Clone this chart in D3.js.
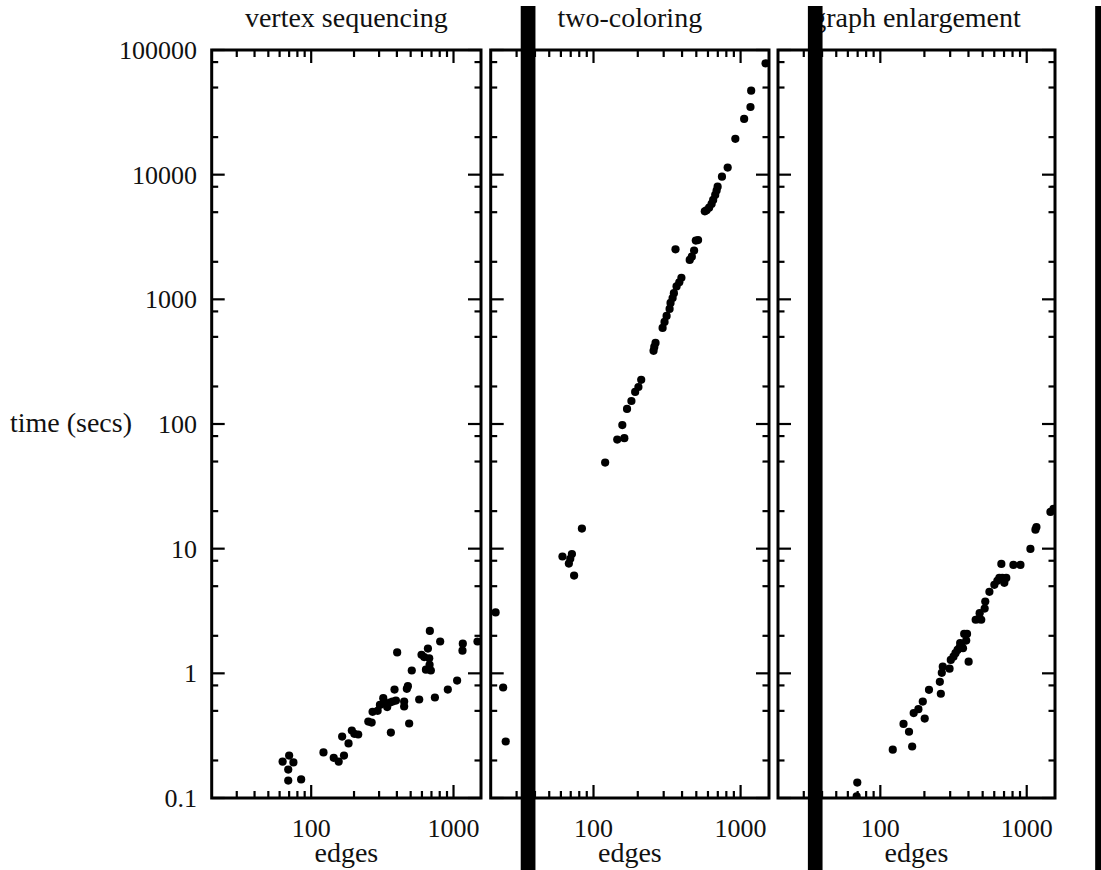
<!DOCTYPE html>
<html lang="en">
<head>
<meta charset="utf-8">
<title>time vs edges</title>
<script src="https://cdnjs.cloudflare.com/ajax/libs/d3/7.8.5/d3.min.js"></script>
<style>
  body { margin: 0; background: #fff; }
  svg text { font-family: "Liberation Serif", "Times New Roman", serif; font-size: 26px; fill: #111; }
  svg text.word { font-size: 28px; }
</style>
</head>
<body>
<svg id="chart" width="1101" height="870"></svg>
<script>
// chart values
var panelTitles = ["vertex sequencing", "two-coloring", "graph enlargement"];

var vsEdges = [63, 70, 75, 69, 69, 85, 122, 144, 156, 170, 165, 183, 193, 201, 214, 252, 266, 270,
  293, 304, 321, 333, 342, 357, 373, 394, 363, 385, 402, 450, 450, 470, 478, 488, 509, 574,
  596, 622, 661, 675, 682, 679, 640, 693, 740, 806, 912, 1060, 1162, 1156, 1474];
var vsTime = [0.196, 0.219, 0.193, 0.169, 0.138, 0.141, 0.232, 0.210, 0.196, 0.219, 0.311, 0.274,
  0.348, 0.327, 0.323, 0.41, 0.403, 0.491, 0.5, 0.558, 0.632, 0.569, 0.536, 0.583,
  0.594, 0.605, 0.335, 0.741, 1.47, 0.594, 0.542, 0.751, 0.789, 0.396, 1.054, 0.617,
  1.41, 1.35, 1.58, 1.32, 2.19, 1.17, 1.07, 1.054, 0.64, 1.80, 0.741, 0.875, 1.73, 1.52, 1.80];

var tcEdges = [21.6, 24.3, 25.3, 61.5, 71.3, 68, 69.5, 73.8, 83.4, 120, 145, 162, 157, 169, 181, 192,
  202, 211, 256, 259, 264, 295, 304, 314, 329, 334, 345, 352, 367, 383, 396, 361, 451, 466, 483, 496,
  514, 571, 587, 611, 635, 651, 672, 687, 698, 747, 817, 921, 1057, 1167, 1180, 1479];
var tcTime = [3.08, 0.77, 0.284, 8.65, 9.05, 7.6, 8.3, 6.08, 14.5, 49, 75, 77, 98, 132, 153, 181,
  198, 226, 386, 415, 447, 590, 659, 736, 837, 935, 1025, 1120, 1270, 1370, 1490, 2520, 2070, 2200,
  2460, 2960, 2990, 5080, 5180, 5440, 5820, 6270, 6880, 7450, 8010, 9640, 11400, 19400, 28000,
  34900, 47200, 78200];

var geEdges = [69.6, 68.9, 121.6, 165, 144, 157, 169, 182, 195, 201, 215, 255, 259, 263, 267, 297,
  303, 316, 326, 337, 348, 359, 351, 367, 374, 391, 386, 401, 448, 467, 489, 477, 516, 521, 556,
  601, 630, 650, 681, 703, 725, 671, 811, 906, 1060, 1147, 1165, 1452, 1523];
var geTime = [0.133, 0.103, 0.244, 0.259, 0.393, 0.34, 0.48, 0.516, 0.594, 0.434, 0.738, 0.855,
  0.686, 1.01, 1.13, 1.09, 1.28, 1.36, 1.45, 1.54, 1.61, 1.66, 1.75, 1.59, 2.07, 2.07, 1.83, 1.24,
  2.69, 2.72, 2.69, 3.04, 3.31, 3.77, 4.51, 5.13, 5.52, 5.83, 5.83, 5.32, 5.83, 7.55, 7.41, 7.41,
  9.95, 14.2, 14.9, 19.7, 20.9];

var yTickValues = [0.1, 1, 10, 100, 1000, 10000, 100000];
var yTickLabels = ["0.1", "1", "10", "100", "1000", "10000", "100000"];
var xTickValues = [100, 1000];
var xTickLabels = ["100", "1000"];
var xDomain = [20, 1560];
var yDomain = [0.1, 100000];
// the black stripes sit over edges 32..40 of panels 2, 3 and a 4th (off page)
var stripeEdges = [32, 40.3];

var svg = d3.select("#chart");
var plotTop = 50, plotBottom = 798;
var panels = [
  { left: 211.7, right: 481, edges: vsEdges, time: vsTime },
  { left: 490.7, right: 769, edges: tcEdges, time: tcTime },
  { left: 778, right: 1055, edges: geEdges, time: geTime }
];

var y = d3.scaleLog().domain(yDomain).range([plotBottom, plotTop]);

// minor ticks: x every unit inside decade, y at 2,5,8
var xMinor = [];
[10, 100].forEach(function(d) { for (var k = 2; k <= 9; k++) if (d * k > xDomain[0] && d * k < xDomain[1]) xMinor.push(d * k); });
var yMinor = [];
[0.1, 1, 10, 100, 1000, 10000].forEach(function(d) { [2, 5, 8].forEach(function(k) { yMinor.push(d * k); }); });

var defs = svg.append("defs");

panels.forEach(function(p, i) {
  var x = d3.scaleLog().domain(xDomain).range([p.left, p.right]);
  p.x = x;
  var g = svg.append("g");

  defs.append("clipPath").attr("id", "clip" + i)
    .append("rect").attr("x", p.left).attr("y", plotTop).attr("width", p.right - p.left).attr("height", plotBottom - plotTop);

  g.append("g").attr("clip-path", "url(#clip" + i + ")")
    .selectAll("circle")
    .data(p.edges.map(function(e, j) { return [e, p.time[j]]; }))
    .enter().append("circle")
    .attr("cx", function(d) { return x(d[0]); })
    .attr("cy", function(d) { return y(d[1]); })
    .attr("r", 4.1)
    .attr("fill", "#000");

  // y ticks on both sides
  var ty = g.append("g").attr("stroke", "#000").attr("stroke-width", 2.2);
  yTickValues.concat(yMinor).forEach(function(v) {
    var len = yTickValues.indexOf(v) >= 0 ? 13 : 6.5;
    ty.append("line").attr("x1", p.left).attr("x2", p.left + len).attr("y1", y(v)).attr("y2", y(v));
    ty.append("line").attr("x1", p.right).attr("x2", p.right - len).attr("y1", y(v)).attr("y2", y(v));
  });
  // x ticks top and bottom
  xTickValues.concat(xMinor).forEach(function(v) {
    var len = xTickValues.indexOf(v) >= 0 ? 13 : 7;
    ty.append("line").attr("x1", x(v)).attr("x2", x(v)).attr("y1", plotBottom).attr("y2", plotBottom - len);
    ty.append("line").attr("x1", x(v)).attr("x2", x(v)).attr("y1", plotTop).attr("y2", plotTop + len);
  });

  g.append("rect")
    .attr("x", p.left).attr("y", plotTop)
    .attr("width", p.right - p.left).attr("height", plotBottom - plotTop)
    .attr("fill", "none").attr("stroke", "#000").attr("stroke-width", 3);

  g.selectAll(".xl").data(xTickValues).enter().append("text")
    .attr("x", function(d) { return x(d); })
    .attr("y", 837)
    .attr("text-anchor", "middle")
    .text(function(d, k) { return xTickLabels[k]; });

  g.append("text").attr("class", "word").attr("x", (p.left + p.right) / 2).attr("y", 862)
    .attr("text-anchor", "middle").text("edges");

  g.append("text").attr("class", "word").attr("x", (p.left + p.right) / 2).attr("y", 27)
    .attr("text-anchor", "middle").text(panelTitles[i]);
});

// y labels on the first panel only
svg.selectAll(".yl").data(yTickValues).enter().append("text")
  .attr("x", 197)
  .attr("y", function(d) { return y(d) + 9; })
  .attr("text-anchor", "end")
  .text(function(d, k) { return yTickLabels[k]; });

svg.append("text").attr("class", "word").attr("x", 132).attr("y", y(100) + 8)
  .attr("text-anchor", "end").text("time (secs)");

// black stripes drawn over everything
var step = panels[2].left - panels[1].left;
var stripeX = [panels[1].x, panels[2].x, d3.scaleLog().domain(xDomain).range([panels[2].left + step, panels[2].right + step])];
svg.append("g").selectAll("rect").data(stripeX).enter().append("rect")
  .attr("x", function(s) { return s(stripeEdges[0]); })
  .attr("width", function(s) { return s(stripeEdges[1]) - s(stripeEdges[0]); })
  .attr("y", 6)
  .attr("height", 870 - 6)
  .attr("fill", "#000");
</script>
</body>
</html>
